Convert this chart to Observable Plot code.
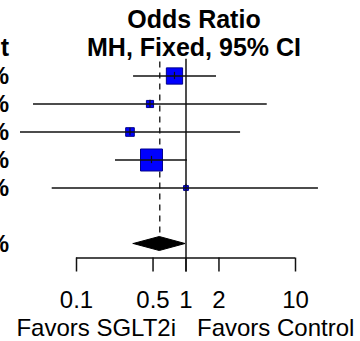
<!DOCTYPE html>
<html><head><meta charset="utf-8">
<script src="https://cdn.jsdelivr.net/npm/d3@7"></script>
<script src="https://cdn.jsdelivr.net/npm/@observablehq/plot@0.6"></script>
<style>html,body{margin:0;padding:0;background:#fff;} svg{display:block;}</style>
</head><body><div id="chart"></div>
<script>
// Study rows (row order top to bottom)
const rowIndex = [1, 2, 3, 4, 5];
const oddsRatio = [0.785, 0.469, 0.308, 0.484, 1.0];
const ciLower = [0.332, 0.0405, 0.0308, 0.227, 0.060];
const ciUpper = [1.90, 5.52, 3.15, 1.03, 16.2];
const weights = [29.5, 5.7, 8.3, 53.9, 2.6];
// Pooled (MH, fixed)
const pooledRow = 7;
const pooledOR = 0.576;
const pooledLower = 0.333;
const pooledUpper = 0.99;
const pooledWeight = "100.0%";
// Axis
const tickValues = [0.1, 0.5, 1, 2, 10];
const tickLabels = ["0.1", "0.5", "1", "2", "10"];
const titleLines = ["Odds Ratio", "MH, Fixed, 95% CI"];
const weightHeader = "Weight";
const labelLeft = "Favors SGLT2i";
const labelRight = "Favors Control";

const rows = rowIndex.map((r, i) => ({
  row: r, est: oddsRatio[i], lo: ciLower[i], hi: ciUpper[i], w: weights[i],
  wlabel: weights[i].toFixed(1) + "%"
}));
const half = 0.25;
const diamond = [
  {x: pooledLower, y1: pooledRow, y2: pooledRow},
  {x: pooledOR, y1: pooledRow - half, y2: pooledRow + half},
  {x: pooledUpper, y1: pooledRow, y2: pooledRow}
];
const axisRow = 7.5, tickEnd = 8, labelRow = 9, favorsRow = 10;
const ticks = tickValues.map((v, i) => ({v, label: tickLabels[i]}));

const font = "'Liberation Sans', Arial, Helvetica, sans-serif";

const chart = Plot.plot({
  width: 360, height: 341,
  marginTop: 0, marginBottom: 0, marginLeft: 0, marginRight: 0,
  x: {type: "log", domain: [0.1, 10], range: [76, 295], axis: null},
  y: {domain: [-1, 10], range: [19.5, 327.5], axis: null},
  r: {type: "sqrt", domain: [0, 53.9], range: [0, 12.4]},
  style: {fontFamily: font, background: "white", color: "black"},
  marks: [
    // titles
    Plot.text([titleLines[0]], {x: () => 1, y: () => -1, dx: 8, fontSize: 25, fontWeight: "bold", fill: "black"}),
    Plot.text([titleLines[1]], {x: () => 1, y: () => 0, dx: 8, fontSize: 25, fontWeight: "bold", fill: "black"}),
    Plot.text([weightHeader], {frameAnchor: "left", y: () => 0, textAnchor: "end", dx: 8.5, fontSize: 25, fontWeight: "bold", fill: "black"}),
    // weights column (clipped)
    Plot.text(rows, {frameAnchor: "left", y: "row", text: "wlabel", textAnchor: "end", dx: 8.5, fontSize: 24, fontWeight: "bold", fill: "black"}),
    Plot.text([pooledWeight], {frameAnchor: "left", y: () => pooledRow, textAnchor: "end", dx: 8.5, fontSize: 24, fontWeight: "bold", fill: "black"}),
    // pooled estimate dashed line
    Plot.ruleX([pooledOR], {y1: 0.5, y2: 6.7, stroke: "#222", strokeWidth: 1.4, strokeDasharray: "6,5"}),
    // null line
    Plot.ruleX([1], {y1: 0.4, y2: tickEnd, stroke: "#222", strokeWidth: 1.6}),
    // squares
    Plot.dot(rows, {x: "est", y: "row", r: "w", symbol: "square", fill: "#0000FF", stroke: "#00008B", strokeWidth: 1}),
    // CIs
    Plot.ruleY(rows, {y: "row", x1: "lo", x2: "hi", stroke: "#111", strokeWidth: 1.5}),
    // estimate ticks
    Plot.ruleX(rows, {x: "est", y1: d => d.row - 0.13, y2: d => d.row + 0.13, stroke: "#111", strokeWidth: 1.2}),
    // diamond
    Plot.areaY(diamond, {x: "x", y1: "y1", y2: "y2", fill: "black", stroke: "black", strokeWidth: 1, curve: "linear"}),
    // axis
    Plot.ruleY([axisRow], {x1: tickValues[0], x2: tickValues[tickValues.length - 1], stroke: "#111", strokeWidth: 1.5}),
    Plot.ruleX(ticks, {x: "v", y1: axisRow, y2: tickEnd, stroke: "#111", strokeWidth: 1.5}),
    Plot.text(ticks, {x: "v", y: () => labelRow, text: "label", fontSize: 24, fill: "black"}),
    Plot.text([labelLeft], {x: () => 1, y: () => favorsRow, textAnchor: "end", dx: -10, fontSize: 24, fill: "black"}),
    Plot.text([labelRight], {x: () => 1, y: () => favorsRow, textAnchor: "start", dx: 11, fontSize: 24, fill: "black"})
  ]
});
document.getElementById("chart").appendChild(chart);
</script>
</body></html>
